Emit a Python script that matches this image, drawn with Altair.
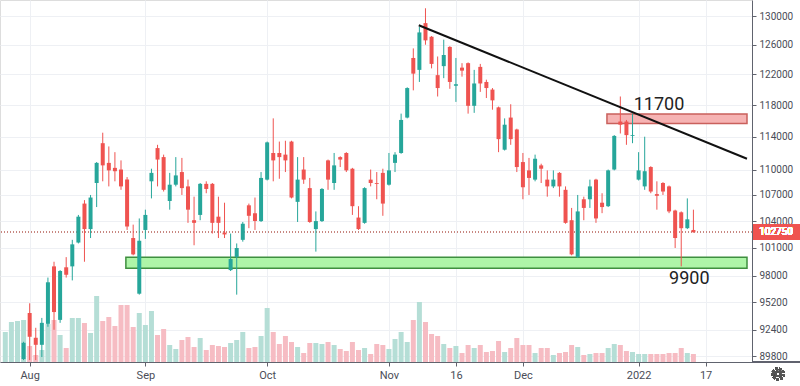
import altair as alt
import pandas as pd

# ---- candle data (bar index, OHLC, volume in millions) ----
OPEN = [86000, 87400, 88500, 89500, 94100, 91600, 90900, 93000, 99000, 93400,
        98900, 99000, 101600, 106000, 103100, 108400, 113200, 110800, 110200, 110000,
        108800, 102100, 96100, 103000, 108600, 112600, 111500, 106300, 108200, 109700,
        108000, 104100, 104700, 108300, 108300, 104500, 102700, 98600, 100000, 101900,
        105800, 104900, 104000, 108800, 112000, 112000, 111800, 113400, 106200, 110000,
        107800, 103100, 104000, 111100, 108400, 111500, 112000, 110100, 104400, 103800,
        108800, 108400, 109600, 108200, 110800, 112000, 116400, 124200, 122600, 129000,
        127100, 121900, 123100, 125700, 120500, 122900, 123500, 117900, 123000, 121000,
        120000, 117700, 112400, 116400, 114900, 110900, 109900, 108800, 110500, 108800,
        108000, 109600, 107600, 104100, 100000, 106500, 106500, 108800, 106100, 105700,
        110000, 115900, 115900, 114100, 108800, 108000, 110300, 107100, 108400, 108000,
        105200, 105000, 103200, 103000]
HIGH = [87800, 88800, 89200, 91200, 95100, 92600, 93600, 97800, 99500, 98600,
        100000, 101900, 104700, 106400, 107000, 110900, 114500, 112800, 112100, 111100,
        109100, 103600, 104300, 105300, 110100, 113000, 111800, 109600, 111500, 111400,
        108800, 106800, 108400, 108600, 108400, 106800, 106100, 102600, 101500, 103900,
        106000, 106700, 109700, 113400, 116300, 113400, 113500, 113500, 111500, 111500,
        109000, 105100, 107800, 111200, 112000, 111600, 112100, 110200, 105700, 107900,
        110000, 109700, 110100, 112000, 112100, 116900, 120300, 125500, 128500, 131100,
        127200, 124400, 126700, 125800, 124200, 123500, 123600, 122600, 123400, 121300,
        120200, 117800, 116300, 118100, 115000, 112000, 111400, 111800, 110700, 109900,
        109900, 109700, 108000, 105500, 107000, 106800, 108800, 108900, 107200, 110000,
        114200, 119100, 116100, 116900, 112100, 114000, 110400, 108600, 108500, 108100,
        105300, 105100, 106600, 105300]
LOW = [85500, 87000, 88000, 89400, 89400, 89400, 89700, 92700, 92400, 93100,
       97800, 97500, 101500, 99500, 102100, 105600, 108600, 108000, 108600, 107600,
       103000, 100200, 96000, 102000, 106600, 108000, 107400, 105300, 108000, 107000,
       103800, 101300, 104100, 107200, 102600, 102100, 102100, 98500, 96000, 101700,
       103200, 103000, 103900, 108700, 108600, 108900, 109700, 106600, 103900, 108300,
       103800, 100600, 103900, 107600, 107600, 110300, 109700, 104700, 103000, 103700,
       108000, 106500, 104600, 108100, 109700, 111900, 116300, 119900, 121000, 126000,
       122800, 119100, 121500, 120100, 118400, 121700, 116900, 117000, 119700, 118900,
       117400, 112100, 112300, 113000, 109700, 106500, 107000, 108600, 108400, 106800,
       107800, 106800, 103700, 100200, 99900, 104100, 105500, 103800, 104900, 105600,
       109900, 114400, 113000, 113200, 108700, 107600, 107200, 105300, 107000, 104900,
       101000, 99000, 103100, 102700]
CLOSE = [87400, 88500, 89000, 91100, 91700, 90900, 93100, 97300, 94200, 98500,
         98100, 101400, 104500, 103100, 106700, 110800, 110500, 109900, 109800, 108000,
         103400, 100300, 101800, 104700, 109600, 111200, 107600, 108200, 109300, 107800,
         105300, 103800, 108300, 107700, 103800, 103800, 102500, 99800, 101000, 103700,
         104600, 104000, 109000, 113300, 111100, 111500, 111100, 106700, 108800, 108800,
         103900, 104000, 107700, 108800, 110500, 111200, 109900, 105700, 103100, 107800,
         108400, 108300, 106000, 109900, 111800, 116100, 120200, 122100, 127700, 126600,
         123400, 120200, 124600, 121000, 120700, 122500, 117900, 120800, 120800, 120200,
         118600, 113700, 115500, 113700, 110300, 107900, 109000, 111300, 110100, 108000,
         108800, 108000, 103800, 100300, 105100, 105500, 108000, 104300, 105600, 109900,
         114100, 115500, 114200, 114200, 109900, 109800, 107400, 106900, 107400, 105100,
         102100, 103200, 104200, 102750]
VOLUME = [3.0, 4.0, 4.1, 4.2, 1.6, 0.7, 1.2, 3.8, 4.2, 2.7,
          1.4, 4.4, 4.4, 3.9, 2.9, 6.6, 4.1, 4.5, 3.6, 5.7,
          5.7, 3.5, 4.9, 3.7, 5.1, 2.7, 3.3, 1.7, 1.3, 2.2,
          2.5, 1.5, 2.4, 1.2, 1.7, 1.6, 1.5, 1.9, 2.2, 3.0,
          1.4, 1.5, 2.6, 5.4, 3.0, 1.8, 2.6, 2.0, 1.5, 0.9,
          1.9, 1.9, 1.8, 2.0, 1.7, 1.3, 1.1, 2.0, 1.2, 1.4,
          0.8, 1.8, 1.7, 1.3, 2.3, 3.0, 2.0, 4.2, 6.0, 4.0,
          2.8, 2.6, 1.8, 1.4, 1.6, 0.9, 1.7, 1.4, 1.7, 1.0,
          1.1, 2.1, 1.0, 1.4, 2.4, 1.7, 1.7, 0.9, 1.4, 1.4,
          0.7, 0.9, 1.0, 1.7, 1.5, 0.7, 0.8, 0.9, 0.9, 1.4,
          1.8, 1.7, 1.1, 1.0, 0.8, 0.8, 0.8, 0.8, 0.8, 0.9,
          0.9, 1.4, 0.9, 0.8]

X_TICK_BARS = [4, 23, 43, 63, 74, 85, 104, 115]
X_TICK_LABELS = ["Aug", "Sep", "Oct", "Nov", "16", "Dec", "2022", "17"]
Y_TICKS = [89800, 92400, 95200, 98000, 101000, 104000, 107000,
           110000, 114000, 118000, 122000, 126000, 130000]
LAST_PRICE = 102750
LAST_TAG = [103600, 101900]

TREND_BARS = [67.9, 121.8]
TREND_PRICES = [128700, 111300]

RESIST_BARS = [98.8, 121.8]
RESIST_PRICES = [116850, 115650]
SUPPORT_BARS = [19.8, 121.8]
SUPPORT_PRICES = [100000, 98800]

LABEL_TEXT = ["11700", "9900"]
LABEL_BARS = [103.2, 109.0]
LABEL_PRICES = [118000, 97700]

X_DOMAIN = [-0.05, 121.8]
Y_DOMAIN = [89216, 132286]
VOL_DOMAIN = [0, 36.2]

UP, DOWN = "#26a69a", "#ef5350"
VUP, VDOWN = "#b5ded6", "#f6bcc3"
AXIS_COLOR = "#60636e"
GRID_COLOR = "#eef0f4"
FONT = "Roboto"

n = len(OPEN)
df = pd.DataFrame({"bar": list(range(n)), "open": OPEN, "high": HIGH,
                   "low": LOW, "close": CLOSE, "vol": VOLUME})
df["dir"] = ["up" if c >= o else "down" for o, c in zip(OPEN, CLOSE)]
df["vdir"] = ["vup" if c >= o else "vdown" for o, c in zip(OPEN, CLOSE)]

label_expr = "''"
for v, l in reversed(list(zip(X_TICK_BARS, X_TICK_LABELS))):
    label_expr = f"datum.value == {v} ? '{l}' : ({label_expr})"

xscale = alt.Scale(domain=X_DOMAIN, nice=False, zero=False)
x_axis = alt.Axis(values=X_TICK_BARS, labelExpr=label_expr, grid=True,
                  gridColor=GRID_COLOR, domainColor=AXIS_COLOR, tickColor=AXIS_COLOR,
                  tickSize=4, labelColor="#4a4d57", labelFont=FONT, labelFontSize=11,
                  labelPadding=3, labelOverlap=False, labelFlush=False, title=None)
X = alt.X("bar:Q", scale=xscale, axis=x_axis)

yscale = alt.Scale(type="log", domain=Y_DOMAIN, nice=False, zero=False)
y_axis = alt.Axis(values=Y_TICKS, orient="right", format="d", grid=True,
                  gridColor=GRID_COLOR, domainColor=AXIS_COLOR, tickColor=AXIS_COLOR,
                  tickSize=4, labelPadding=3, labelColor="#4a4d57", labelFont=FONT,
                  labelFontSize=10, title=None)

dircolor = alt.Color("dir:N", scale=alt.Scale(domain=["up", "down"], range=[UP, DOWN]), legend=None)
volcolor = alt.Color("vdir:N", scale=alt.Scale(domain=["vup", "vdown"], range=[VUP, VDOWN]), legend=None)

base = alt.Chart(df)

volume = base.mark_bar(orient="vertical", size=5, clip=True).encode(
    x=X,
    y=alt.Y("vol:Q", scale=alt.Scale(domain=VOL_DOMAIN, nice=False), axis=None),
    color=volcolor,
)

zones = pd.DataFrame({
    "x": [RESIST_BARS[0], SUPPORT_BARS[0]], "x2": [RESIST_BARS[1], SUPPORT_BARS[1]],
    "y": [RESIST_PRICES[0], SUPPORT_PRICES[0]], "y2": [RESIST_PRICES[1], SUPPORT_PRICES[1]],
    "kind": ["res", "sup"],
})
zone = alt.Chart(zones).mark_rect(strokeWidth=1.5).encode(
    x=alt.X("x:Q", scale=xscale, axis=x_axis), x2="x2:Q",
    y=alt.Y("y:Q", scale=yscale, axis=y_axis), y2="y2:Q",
    fill=alt.Fill("kind:N", scale=alt.Scale(domain=["res", "sup"], range=["#f6b3b3", "#aef5a8"]), legend=None),
    stroke=alt.Stroke("kind:N", scale=alt.Scale(domain=["res", "sup"], range=["#c9605c", "#3f8f3f"]), legend=None),
)

price_line = alt.Chart(df).mark_rule(strokeDash=[1, 2], color="#c98783", strokeWidth=1).encode(
    y=alt.datum(LAST_PRICE)
)

wicks = base.mark_rule(strokeWidth=1, clip=True).encode(
    x=X, y=alt.Y("low:Q", scale=yscale, axis=y_axis), y2="high:Q", color=dircolor
)
bodies = base.mark_bar(orient="vertical", size=4, clip=True).encode(
    x=X, y=alt.Y("open:Q", scale=yscale, axis=y_axis), y2="close:Q", color=dircolor
)

trend_df = pd.DataFrame({"bar": TREND_BARS, "price": TREND_PRICES})
trend = alt.Chart(trend_df).mark_line(color="#111111", strokeWidth=2).encode(
    x=alt.X("bar:Q", scale=xscale, axis=x_axis),
    y=alt.Y("price:Q", scale=yscale, axis=y_axis),
)

lab_df = pd.DataFrame({"bar": LABEL_BARS, "price": LABEL_PRICES, "t": LABEL_TEXT})
labels = alt.Chart(lab_df).mark_text(align="left", baseline="middle", fontSize=18,
                                     font=FONT, color="#222222").encode(
    x=alt.X("bar:Q", scale=xscale, axis=x_axis),
    y=alt.Y("price:Q", scale=yscale, axis=y_axis),
    text="t:N",
)

tag = alt.Chart(df).mark_rect(color=DOWN).encode(
    x=alt.value(753), x2=alt.value(800), y=alt.datum(LAST_TAG[0]), y2=alt.datum(LAST_TAG[1])
)
tag_text = alt.Chart(df).mark_text(color="white", fontSize=10, font=FONT, align="center",
                                   baseline="middle").encode(
    x=alt.value(776), y=alt.datum(LAST_PRICE), text=alt.value(str(LAST_PRICE))
)
bottom_ext = alt.Chart(df).mark_rule(color=AXIS_COLOR).encode(
    x=alt.value(752), x2=alt.value(800), y=alt.value(362)
)
# settings gear icon (ring with teeth + hub)
gear_teeth = alt.Chart(df).mark_point(shape="circle", filled=False, size=110, strokeWidth=2.5,
                                      strokeDash=[2, 1.6], color="#555555").encode(
    x=alt.value(778), y=alt.value(374)
)
gear_hub = alt.Chart(df).mark_point(shape="circle", filled=False, size=22, strokeWidth=1.5,
                                    color="#555555").encode(
    x=alt.value(778), y=alt.value(374)
)

price_layer = alt.layer(zone, price_line, wicks, bodies, trend, labels, tag, tag_text)

chart = alt.layer(volume, price_layer, bottom_ext, gear_teeth, gear_hub).resolve_scale(
    y="independent", color="independent"
).properties(
    width=752, height=362,
    padding={"left": 0, "top": 0, "right": 48, "bottom": 24},
    autosize=alt.AutoSizeParams(type="none"),
).configure_view(stroke=None).configure(background="white")

chart.save("out.html", embed_options={"renderer": "svg", "actions": False})
